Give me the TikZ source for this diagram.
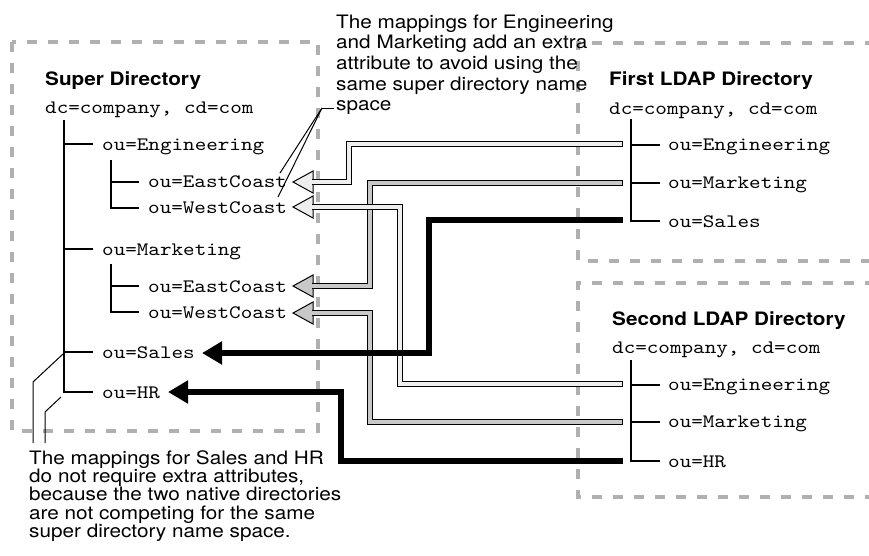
\documentclass[tikz,border=0pt]{standalone}
\usepackage{fontspec}
\setmainfont{TeX Gyre Heros}[FakeStretch=1.12]
\setmonofont{lmmono10-regular.otf}[FakeStretch=1.16]
\usetikzlibrary{arrows.meta,calc}
\definecolor{boxgray}{HTML}{B0B0B0}
\definecolor{engc}{HTML}{EEEEEE}
\definecolor{mktc}{HTML}{C8C8C8}
\tikzset{
  boxd/.style={draw=boxgray, line width=4.5pt, dash pattern=on 10pt off 11pt},
  dirtitle/.style={font=\fontsize{18.5}{20}\selectfont\bfseries, anchor=base west, inner sep=0pt},
  mono/.style={font=\fontsize{19}{20}\selectfont\ttfamily, anchor=base west, inner sep=0pt},
  tree/.style={line width=1.4pt},
  notetext/.style={font=\fontsize{18.5}{#1}\selectfont, align=left, anchor=north west, inner sep=0pt},
  leader/.style={line width=1pt},
  dbl/.style={draw=black, double=#1, double distance=4.5pt, line width=1pt, line join=miter},
  openhead/.style={fill=#1, draw=black, line width=1pt, line join=miter},
  tailcap/.style={line width=1pt},
  blk/.style={line width=6.5pt, line join=miter, -{Triangle[length=20pt,width=22pt]}}
}
\begin{document}
\begin{tikzpicture}[x=1pt,y=-1pt]
\useasboundingbox (0,0) rectangle (869,555);
% dashed frames
\draw[boxd] (12,42) rectangle (318,431);
\draw[boxd] (875,43) -- (578,43) -- (578,261) -- (875,261);
\draw[boxd] (875,283) -- (578,283) -- (578,497) -- (875,497);

% Super Directory
\node[dirtitle] (sdT) at (45,85) {Super Directory};
\node[mono] (sdC) at (45,113) {dc=company, cd=com};
\node[mono] (sEng) at (102,150) {ou=Engineering};
\node[mono] (sEngE) at (148,187) {ou=EastCoast};
\node[mono] (sEngW) at (148,213) {ou=WestCoast};
\node[mono] (sMkt) at (102,255) {ou=Marketing};
\node[mono] (sMktE) at (148,292) {ou=EastCoast};
\node[mono] (sMktW) at (148,318) {ou=WestCoast};
\node[mono] (sSal) at (102,358) {ou=Sales};
\node[mono] (sHR) at (102,398) {ou=HR};
\draw[tree] (64,120) |- (93,392);
\draw[tree] (64,144) -- (93,144);
\draw[tree] (64,249) -- (93,249);
\draw[tree] (64,352) -- (93,352);
\draw[tree] (111,160) |- (139,208);
\draw[tree] (111,182) -- (139,182);
\draw[tree] (111,264) |- (139,312);
\draw[tree] (111,286) -- (139,286);

% First LDAP Directory
\node[dirtitle] (fT) at (609,85) {First LDAP Directory};
\node[mono] (fC) at (609,114) {dc=company, cd=com};
\node[mono] (fEng) at (668,150) {ou=Engineering};
\node[mono] (fMkt) at (668,188) {ou=Marketing};
\node[mono] (fSal) at (668,227) {ou=Sales};
\draw[tree] (631,119) |- (660,221);
\draw[tree] (631,145) -- (660,145);
\draw[tree] (631,183) -- (660,183);

% Second LDAP Directory
\node[dirtitle] (gT) at (612,325) {Second LDAP Directory};
\node[mono] (gC) at (612,353) {dc=company, cd=com};
\node[mono] (gEng) at (668,390) {ou=Engineering};
\node[mono] (gMkt) at (668,427) {ou=Marketing};
\node[mono] (gHR) at (668,467) {ou=HR};
\draw[tree] (631,360) |- (660,461);
\draw[tree] (631,385) -- (660,385);
\draw[tree] (631,422) -- (660,422);

% tail and head points
\coordinate (tEngE) at (623,144);
\coordinate (tEngW) at (623,384);
\coordinate (tMktE) at (623,183);
\coordinate (tMktW) at (623,422);
\coordinate (tSal) at (623,220);
\coordinate (tHR) at (623,461);
\coordinate (hEngE) at (293,182);
\coordinate (hEngW) at (293,207);
\coordinate (hMktE) at (293,286);
\coordinate (hMktW) at (293,313);
\coordinate (hSal) at (202,353);
\coordinate (hHR) at (168,392);

% Marketing mappings
\draw[openhead=mktc] (hMktE) -- ++(20,-11) -- ++(0,22) -- cycle;
\draw[dbl=mktc] (tMktE) -| (370,286) -- (312.3,286);
\draw[tailcap] ($(tMktE)+(-0.5,-3.25)$) -- ++(0,6.5);
\draw[openhead=mktc] (hMktW) -- ++(20,-11) -- ++(0,22) -- cycle;
\draw[dbl=mktc] (tMktW) -| (370,313) -- (312.3,313);
\draw[tailcap] ($(tMktW)+(-0.5,-3.25)$) -- ++(0,6.5);

% Engineering mappings
\draw[openhead=engc] (hEngE) -- ++(20,-11) -- ++(0,22) -- cycle;
\draw[dbl=engc] (tEngE) -| (349,182) -- (312.3,182);
\draw[tailcap] ($(tEngE)+(-0.5,-3.25)$) -- ++(0,6.5);
\draw[openhead=engc] (hEngW) -- ++(20,-11) -- ++(0,22) -- cycle;
\draw[dbl=engc] (tEngW) -| (400,207) -- (312.3,207);
\draw[tailcap] ($(tEngW)+(-0.5,-3.25)$) -- ++(0,6.5);

% Sales and HR mappings
\draw[blk] (tSal) -| (429,353) -- (hSal);
\draw[blk] (tHR) -| (341,392) -- (hHR);

% notes
\node[notetext=20.6] (n1) at (336,14.5) {The mappings for Engineering\\and Marketing add an extra\\attribute to avoid using the\\same super directory name\\space};
\coordinate (n1j) at (322,108);
\draw[leader] (n1j) -- (334,108);
\draw[leader] (n1j) -- (280,173);
\draw[leader] (n1j) -- (278,197);

\node[notetext=18.4] (n2) at (29,450) {The mappings for Sales and HR\\do not require extra attributes,\\because the two native directories\\are not competing for the same\\super directory name space.};
\draw[leader] (63,354) -- (33,382) -- (33,443);
\draw[leader] (61,397) -- (45,412) -- (45,443);
\end{tikzpicture}
\end{document}
